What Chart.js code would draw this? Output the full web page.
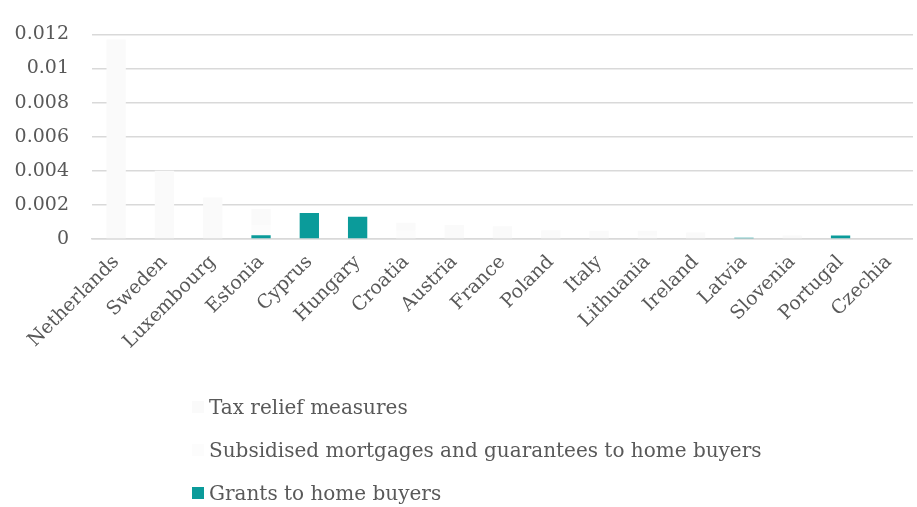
<!DOCTYPE html>
<html>
<head>
<meta charset="utf-8">
<script src="https://cdn.jsdelivr.net/npm/chart.js@4/dist/chart.umd.min.js"></script>
<style>
  html, body { margin: 0; padding: 0; background: #fff; }
  #wrap { position: relative; width: 917px; height: 507px; }
  #legend { position: absolute; left: 192px; top: 394px; font-family: "DejaVu Serif", serif; font-size: 20px; color: #595959; }
  #legend .item { display: flex; align-items: center; height: 26px; margin-bottom: 17px; }
  #legend .box { width: 12px; height: 12px; margin-right: 5px; }
</style>
</head>
<body>
<div id="wrap">
  <canvas id="supportChart" width="917" height="507"></canvas>
  <div id="legend"></div>
</div>
<script>
// Home-buyer support by country, share of GDP
const countries = ['Netherlands', 'Sweden', 'Luxembourg', 'Estonia', 'Cyprus', 'Hungary', 'Croatia', 'Austria',
    'France', 'Poland', 'Italy', 'Lithuania', 'Ireland', 'Latvia', 'Slovenia', 'Portugal', 'Czechia'];
const grants = [0, 0, 0, 0.00022, 0.00152, 0.0013, 0, 0, 0.00004, 0, 0, 0, 0, 0.00008, 0, 0.0002, 0];
const subsidised = [0, 0, 0, 0.0006, 0, 0, 0.0005, 0, 0, 0, 0, 0.0002, 0, 0.00003, 0, 0, 0];
const taxRelief = [0.0117, 0.004, 0.00244, 0.00094, 0, 0, 0.00046, 0.00082, 0.00071, 0.00052, 0.00049, 0.00028, 0.00038, 0, 0.0002, 0, 0];
const yTicks = [0, 0.002, 0.004, 0.006, 0.008, 0.01, 0.012];

const textColor = '#595959';
const gridColor = '#d9d9d9';

const ctx = document.getElementById('supportChart').getContext('2d');
const supportChart = new Chart(ctx, {
    type: 'bar',
    data: {
        labels: countries,
        // grants sit at the bottom of each stack
        datasets: [{
            label: 'Grants to home buyers',
            data: grants,
            backgroundColor: '#0b9b9a'
        }, {
            label: 'Subsidised mortgages and guarantees to home buyers',
            data: subsidised,
            backgroundColor: '#fcfcfc'
        }, {
            label: 'Tax relief measures',
            data: taxRelief,
            backgroundColor: '#fafafa'
        }]
    },
    options: {
        responsive: false,
        animation: false,
        layout: { padding: { top: 20, right: 1, left: 0, bottom: 0 } },
        datasets: {
            bar: { categoryPercentage: 1, barPercentage: 0.4 }
        },
        scales: {
            x: {
                stacked: true,
                grid: { display: false, drawTicks: false },
                border: { color: gridColor, width: 1.5 },
                ticks: {
                    color: textColor,
                    font: { family: 'DejaVu Serif', size: 19 },
                    minRotation: 45,
                    maxRotation: 45,
                    autoSkip: false,
                    padding: 12
                },
                afterFit: (scale) => { scale.height = 268; }
            },
            y: {
                stacked: true,
                min: 0,
                max: 0.012,
                afterBuildTicks: (scale) => { scale.ticks = yTicks.map(v => ({ value: v })); },
                grid: { color: gridColor, lineWidth: 1.5, drawTicks: false },
                border: { display: false },
                ticks: {
                    color: textColor,
                    font: { family: 'DejaVu Serif', size: 19 },
                    padding: 23,
                    callback: (v) => String(+v.toFixed(3))
                },
                afterFit: (scale) => { scale.width = 92; }
            }
        },
        plugins: {
            legend: { display: false },
            tooltip: { enabled: false }
        }
    }
});

// Vertical legend under the chart, tax relief first
const legendEl = document.getElementById('legend');
supportChart.data.datasets.slice().reverse().forEach(ds => {
    const item = document.createElement('div');
    item.className = 'item';
    const box = document.createElement('span');
    box.className = 'box';
    box.style.background = ds.backgroundColor;
    const label = document.createElement('span');
    label.textContent = ds.label;
    item.appendChild(box);
    item.appendChild(label);
    legendEl.appendChild(item);
});
</script>
</body>
</html>
